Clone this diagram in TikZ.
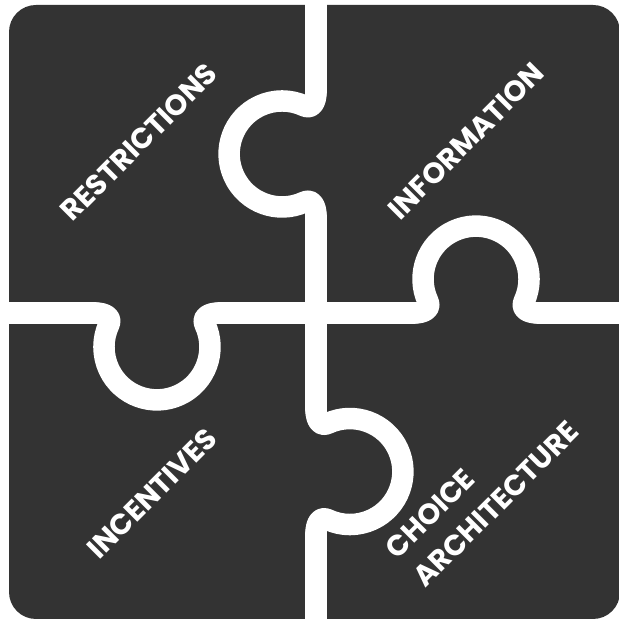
\documentclass[tikz,border=0pt]{standalone}
\usepackage{fontspec}
\newfontfamily\labelfont{Poppins}
\usepackage{tikz}
\definecolor{piece}{HTML}{333333}

\tikzset{
    cut/.style={white, line width=21.5pt, line cap=round, line join=round},
    label/.style={white, font=\labelfont\bfseries\fontsize{29}{40}\selectfont,
        rotate=45, inner sep=0pt, align=left},
    knob/.pic={
        \draw[cut] (-62,0) .. controls (-52,0) and (-44.6,4.2) .. (-48,11.5)
            arc[start angle=205, end angle=-25, radius=53]
            .. controls (44.6,4.2) and (52,0) .. (62,0);
    }
}

\begin{document}
\begin{tikzpicture}[x=1pt, y=1pt]
    \useasboundingbox (0,0) rectangle (619,619);

    % The whole board
    \fill[piece, rounded corners=27pt] (9,0) rectangle (620,614);

    % Straight cuts
    \draw[cut] (316,630) -- (316,527);
    \draw[cut] (316,403) -- (316,209.5);
    \draw[cut] (316,85.5) -- (316,-10);
    \draw[cut] (-10,306) -- (95,306);
    \draw[cut] (219,306) -- (414,306);
    \draw[cut] (538,306) -- (630,306);

    % Tabs
    \foreach \px/\py/\rot in {316/465/90, 316/147.5/-90, 157/306/180, 476/306/0} {
        \pic[rotate=\rot] at (\px,\py) {knob};
    }

    % Labels
    \node[label] (restrictions) at (139,477) {RESTRICTIONS};
    \node[label] (information) at (466,478) {INFORMATION};
    \node[label] (incentives) at (152,125.5) {INCENTIVES};
    \node[label] (choice) at (482,129) {CHOICE\\ARCHITECTURE};
\end{tikzpicture}
\end{document}
